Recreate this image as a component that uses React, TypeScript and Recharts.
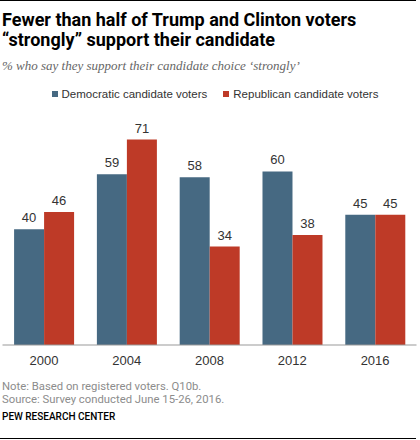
import React from 'react';
import { BarChart, Bar, XAxis, YAxis, Legend, LabelList } from 'recharts';

const years = ['2000', '2004', '2008', '2012', '2016'];
const democraticVoters = [40, 59, 58, 60, 45];
const republicanVoters = [46, 71, 34, 38, 45];

const seriesNames = {
  dem: 'Democratic candidate voters',
  rep: 'Republican candidate voters',
};

const colors = {
  dem: '#466982',
  rep: '#BE3A27',
};

const data = years.map((year, i) => ({
  year,
  dem: democraticVoters[i],
  rep: republicanVoters[i],
}));

const sans = '"Liberation Sans", Arial, sans-serif';

const renderLegend = (props: any) => {
  const { payload } = props;
  return (
    <div style={{ display: 'flex', justifyContent: 'center', gap: 16, fontFamily: sans, fontSize: 11.5, lineHeight: '14px', color: '#333' }}>
      {payload.map((entry: any) => (
        <div key={entry.value} style={{ display: 'flex', alignItems: 'center' }}>
          <span style={{ display: 'inline-block', width: 6, height: 6, background: entry.color, marginRight: 4 }} />
          <span>{entry.value}</span>
        </div>
      ))}
    </div>
  );
};

const App: React.FC = () => {
  return (
    <div style={{ position: 'absolute', left: 0, top: 0, width: 420, height: 440, background: '#fff', overflow: 'hidden' }}>
      {/* Rules top and bottom */}
      <div style={{ position: 'absolute', left: 0, top: 0, width: 416, height: 1, background: '#000' }} />
      <div style={{ position: 'absolute', left: 0, top: 438, width: 416, height: 1, background: '#000' }} />

      {/* Title */}
      <div style={{ position: 'absolute', left: 2, top: 10, fontFamily: 'Roboto, sans-serif', fontWeight: 700, fontSize: 18, lineHeight: '20px', color: '#000' }}>
        Fewer than half of Trump and Clinton voters
        <br />
        “strongly” support their candidate
      </div>
      <div style={{ position: 'absolute', left: 2, top: 58, fontFamily: '"Liberation Serif", serif', fontStyle: 'italic', fontSize: 13, color: '#666' }}>
        % who say they support their candidate choice ‘strongly’
      </div>

      {/* Chart */}
      <div style={{ position: 'absolute', left: 0, top: 80 }}>
        <BarChart
          width={420}
          height={300}
          data={data}
          margin={{ top: 19.5, right: 3.5, bottom: 5, left: 2.5 }}
          barCategoryGap="14%"
          barGap={0}
        >
          <XAxis
            dataKey="year"
            height={30}
            tickLine={false}
            axisLine={{ stroke: '#999' }}
            tick={{ fill: '#333', fontSize: 13, fontFamily: sans }}
            tickMargin={5}
          />
          <YAxis hide domain={[0, 80]} />
          <Legend
            verticalAlign="top"
            height={14}
            content={renderLegend}
            wrapperStyle={{ top: 7, left: 0, width: 430 }}
          />
          <Bar dataKey="dem" name={seriesNames.dem} fill={colors.dem} isAnimationActive={false}>
            <LabelList dataKey="dem" position="top" offset={7} fill="#333" fontSize={13} fontFamily={sans} />
          </Bar>
          <Bar dataKey="rep" name={seriesNames.rep} fill={colors.rep} isAnimationActive={false}>
            <LabelList dataKey="rep" position="top" offset={7} fill="#333" fontSize={13} fontFamily={sans} />
          </Bar>
        </BarChart>
      </div>

      {/* Notes */}
      <div style={{ position: 'absolute', left: 2, top: 380, fontFamily: 'Roboto, sans-serif', fontSize: 11.3, lineHeight: '13px', color: '#8c8c8c' }}>
        Note: Based on registered voters. Q10b.
        <br />
        Source: Survey conducted June 15-26, 2016.
      </div>
      <div style={{ position: 'absolute', left: 2, top: 411, fontFamily: 'Roboto, sans-serif', fontWeight: 500, fontSize: 10, color: '#000' }}>
        PEW RESEARCH CENTER
      </div>
    </div>
  );
};

export default App;
